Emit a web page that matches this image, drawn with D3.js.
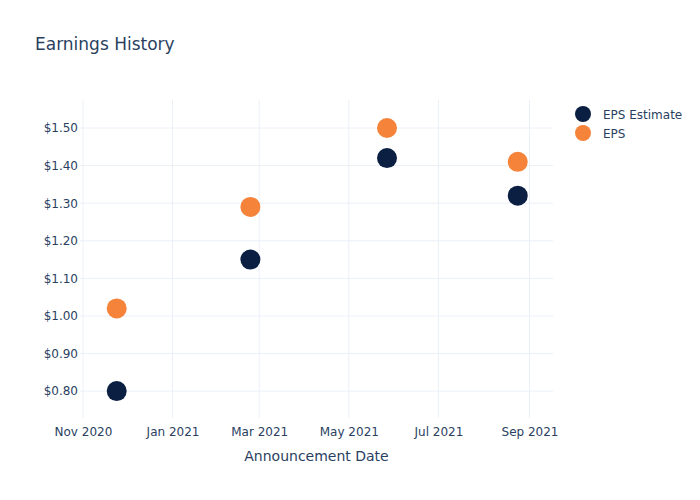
<!DOCTYPE html>
<html>
<head>
<meta charset="utf-8">
<script src="https://cdn.jsdelivr.net/npm/d3@7"></script>
<style>
  body { margin: 0; background: #fff; }
  text { font-family: "DejaVu Sans", sans-serif; }
</style>
</head>
<body>
<svg id="chart" width="700" height="500"></svg>
<script>
const dates = ["2020-11-24", "2021-02-23", "2021-05-27", "2021-08-24"];
const epsEstimate = [0.80, 1.15, 1.42, 1.32];
const eps = [1.02, 1.29, 1.50, 1.41];
const yTicks = [0.8, 0.9, 1.0, 1.1, 1.2, 1.3, 1.4, 1.5];
const xTicks = ["2020-11-01", "2021-01-01", "2021-03-01", "2021-05-01", "2021-07-01", "2021-09-01"];
const seriesNames = ["EPS Estimate", "EPS"];
const seriesColors = ["#0b1f42", "#f5833a"];

(function () {
const parse = d3.utcParse("%Y-%m-%d");
const svg = d3.select("#chart");
const pL = 80, pR = 553, pT = 100, pB = 418;
const font = "'DejaVu Sans', sans-serif";

const x = d3.scaleUtc()
  .domain([parse("2020-10-30"), parse("2021-09-17")])
  .range([pL, pR]);
const y = d3.scaleLinear()
  .domain([0.7285, 1.5745])
  .range([pB, pT]);

const grid = "#ebf0f8";
const txt = "#2a3f5f";

svg.append("g").selectAll("line").data(xTicks).join("line")
  .attr("x1", d => x(parse(d))).attr("x2", d => x(parse(d)))
  .attr("y1", pT).attr("y2", pB)
  .attr("stroke", grid).attr("stroke-width", 1);
svg.append("g").selectAll("line").data(yTicks).join("line")
  .attr("x1", pL).attr("x2", pR)
  .attr("y1", d => y(d)).attr("y2", d => y(d))
  .attr("stroke", grid).attr("stroke-width", 1);

const xAxis = d3.axisBottom(x)
  .tickValues(xTicks.map(parse))
  .tickFormat(d3.utcFormat("%b %Y"))
  .tickSize(0).tickPadding(9);
const gx = svg.append("g").attr("transform", `translate(0,${pB})`).call(xAxis);
gx.select(".domain").remove();
gx.selectAll("text").attr("fill", txt).style("font-size", "12px").style("font-family", font);

const yAxis = d3.axisLeft(y)
  .tickValues(yTicks)
  .tickFormat(d => "$" + d.toFixed(2))
  .tickSize(0).tickPadding(2);
const gy = svg.append("g").attr("transform", `translate(${pL},0)`).call(yAxis);
gy.select(".domain").remove();
gy.selectAll("text").attr("fill", txt).style("font-size", "12px").style("font-family", font);

const series = [epsEstimate, eps];
series.forEach((vals, i) => {
  svg.append("g").selectAll("circle").data(vals).join("circle")
    .attr("cx", (d, j) => x(parse(dates[j])))
    .attr("cy", d => y(d))
    .attr("r", 10)
    .attr("fill", seriesColors[i]);
});

svg.append("text").attr("x", 35).attr("y", 50)
  .attr("fill", txt).style("font-size", "17px").text("Earnings History");

svg.append("text").attr("x", (pL + pR) / 2).attr("y", 461)
  .attr("text-anchor", "middle").attr("fill", txt).style("font-size", "14px")
  .text("Announcement Date");

const lg = svg.append("g");
seriesNames.forEach((n, i) => {
  lg.append("circle").attr("cx", 583).attr("cy", 114 + i * 19).attr("r", 8).attr("fill", seriesColors[i]);
  lg.append("text").attr("x", 603).attr("y", 118.5 + i * 19)
    .attr("fill", txt).style("font-size", "12px").text(n);
});
})();
</script>
</body>
</html>
